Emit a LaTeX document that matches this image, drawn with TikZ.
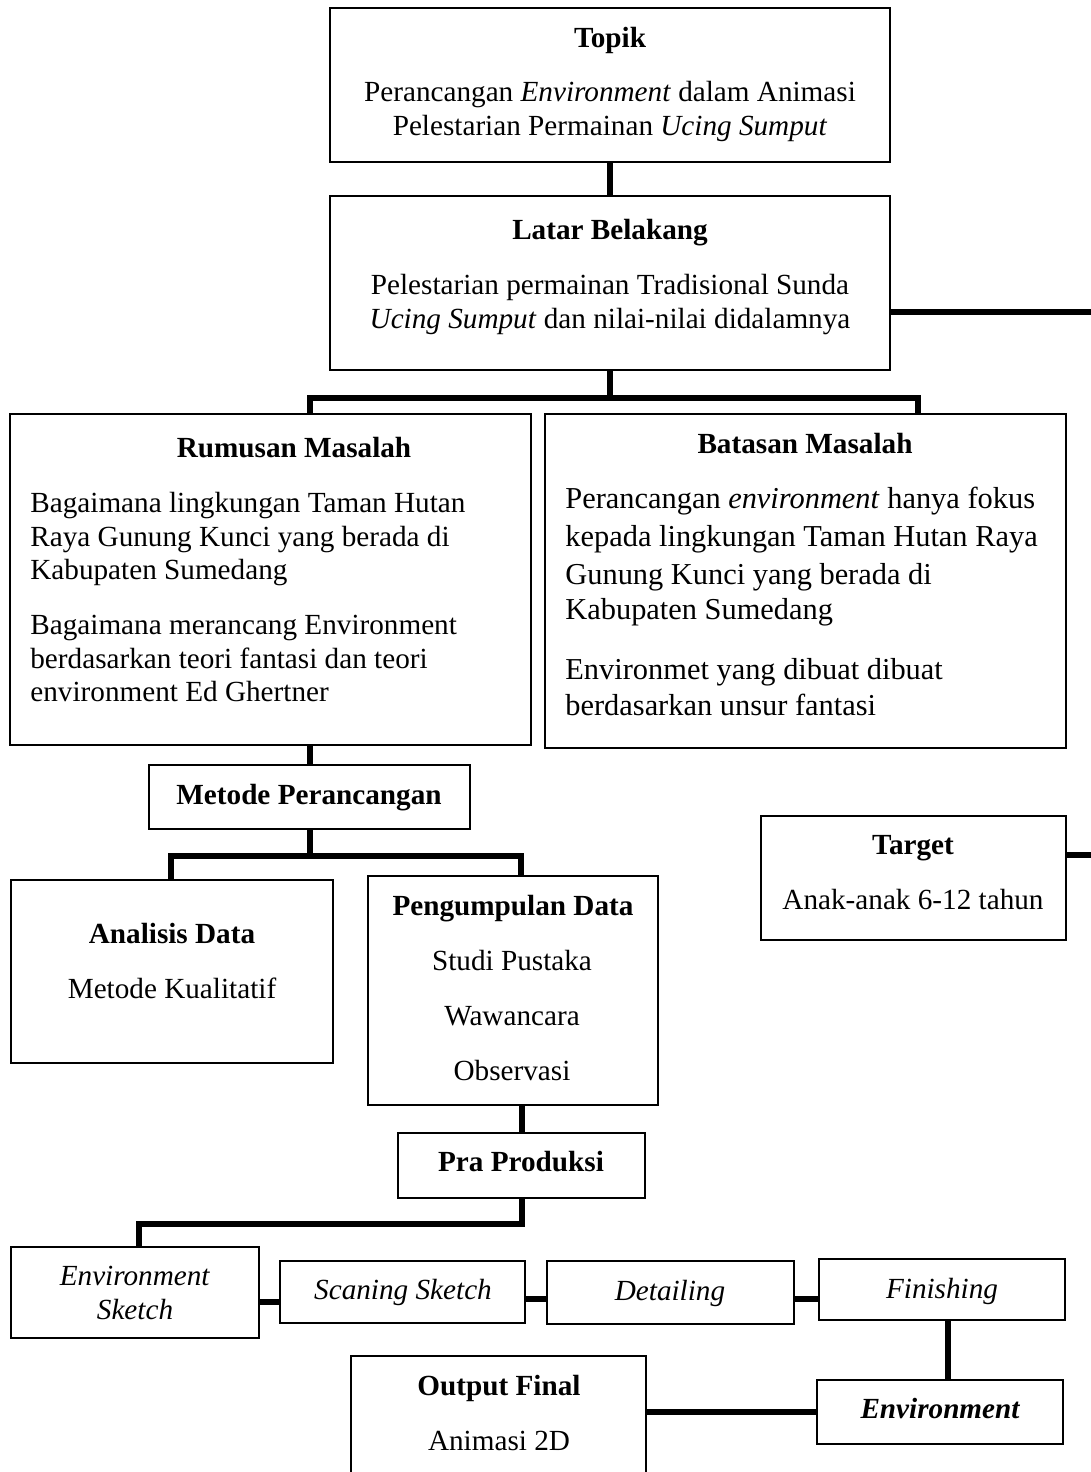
\documentclass[tikz,border=0pt]{standalone}
\usepackage{fontspec}
\setmainfont{Liberation Serif}
\usetikzlibrary{fit}
\tikzset{
  box/.style={draw, line width=1.2pt, inner sep=0pt, outer sep=0pt},
  conn/.style={line width=3pt, line join=miter},
  txt/.style={inner sep=0pt, yshift=-2.5pt, font=\fontsize{14.6pt}{17pt}\selectfont, text height=0.7em, text depth=0.25em},
  ttl/.style={txt, font=\fontsize{14.6pt}{17pt}\selectfont\bfseries},
  ltxt/.style={txt, anchor=west},
  btxt/.style={txt, anchor=west, font=\fontsize{15.2pt}{18pt}\selectfont}
}
\begin{document}
\begin{tikzpicture}[x=0.5pt,y=-0.5pt]
\path[use as bounding box] (0,0) rectangle (1091,1472);
\clip (0,0) rectangle (1091,1472);
\fill[white] (0,0) rectangle (1091,1472);

% boxes
\node[box, fit={(330,8) (890,162)}] (topik) {};
\node[box, fit={(330,196) (890,370)}] (latar) {};
\node[box, fit={(10,414) (531,745)}] (rumusan) {};
\node[box, fit={(545,414) (1066,748)}] (batasan) {};
\node[box, fit={(149,765) (470,829)}] (metode) {};
\node[box, fit={(761,816) (1066,940)}] (target) {};
\node[box, fit={(11,880) (333,1063)}] (analisis) {};
\node[box, fit={(368,876) (658,1105)}] (pengumpulan) {};
\node[box, fit={(398,1133) (645,1198)}] (pra) {};
\node[box, fit={(11,1247) (259,1338)}] (envs) {};
\node[box, fit={(280,1261) (525,1323)}] (scan) {};
\node[box, fit={(547,1261) (794,1324)}] (detail) {};
\node[box, fit={(819,1259) (1065,1320)}] (finish) {};
\node[box, fit={(817,1380) (1063,1444)}] (env) {};
\node[box, fit={(351,1356) (646,1520)}] (output) {};

% texts
\node[ttl] (tTopik) at (610,38) {Topik};
\node[txt] (tTopik1) at (610,92) {Perancangan \textit{Environment} dalam Animasi};
\node[txt] (tTopik2) at (610,126) {Pelestarian Permainan \textit{Ucing Sumput}};

\node[ttl] (tLatar) at (610,230) {Latar Belakang};
\node[txt] (tLatar1) at (610,285) {Pelestarian permainan Tradisional Sunda};
\node[txt] (tLatar2) at (610,319) {\textit{Ucing Sumput} dan nilai-nilai didalamnya};

\node[ttl] (tRum) at (294,448) {Rumusan Masalah};
\node[ltxt] (tRum1) at (30,503) {Bagaimana lingkungan Taman Hutan};
\node[ltxt] (tRum2) at (30,537) {Raya Gunung Kunci yang berada di};
\node[ltxt] (tRum3) at (30,570) {Kabupaten Sumedang};
\node[ltxt] (tRum4) at (30,625) {Bagaimana merancang Environment};
\node[ltxt] (tRum5) at (30,659) {berdasarkan teori fantasi dan teori};
\node[ltxt] (tRum6) at (30,692) {environment Ed Ghertner};

\node[ttl] (tBat) at (805,444) {Batasan Masalah};
\node[btxt] (tBat1) at (565,499) {Perancangan \textit{environment} hanya fokus};
\node[btxt] (tBat2) at (565,537) {kepada lingkungan Taman Hutan Raya};
\node[btxt] (tBat3) at (565,575) {Gunung Kunci yang berada di};
\node[btxt] (tBat4) at (565,610) {Kabupaten Sumedang};
\node[btxt] (tBat5) at (565,670) {Environmet yang dibuat dibuat};
\node[btxt] (tBat6) at (565,706) {berdasarkan unsur fantasi};

\node[ttl] (tMet) at (309,795) {Metode Perancangan};
\node[ttl] (tTar) at (913,845) {Target};
\node[txt] (tTar1) at (913,900) {Anak-anak 6-12 tahun};

\node[ttl] (tAna) at (172,934) {Analisis Data};
\node[txt] (tAna1) at (172,989) {Metode Kualitatif};

\node[ttl] (tPen) at (513,906) {Pengumpulan Data};
\node[txt] (tPen1) at (512,961) {Studi Pustaka};
\node[txt] (tPen2) at (512,1016) {Wawancara};
\node[txt] (tPen3) at (512,1071) {Observasi};

\node[ttl] (tPra) at (521,1162) {Pra Produksi};

\node[txt] (tEnvs1) at (135,1276) {\textit{Environment}};
\node[txt] (tEnvs2) at (135,1310) {\textit{Sketch}};
\node[txt] (tScan) at (403,1290) {\textit{Scaning Sketch}};
\node[txt] (tDet) at (670,1291) {\textit{Detailing}};
\node[txt] (tFin) at (942,1289) {\textit{Finishing}};
\node[txt, font=\fontsize{14.6pt}{17pt}\selectfont\bfseries\itshape] (tEnv) at (940,1409) {Environment};

\node[ttl] (tOut) at (499,1386) {Output Final};
\node[txt] (tOut1) at (499,1441) {Animasi 2D};

% junction coordinates
\coordinate (jA) at (612,398);
\coordinate (jB) at (310,398);
\coordinate (jC) at (918,398);
\coordinate (eR1) at (1091,312);
\coordinate (eR2) at (1091,855);
\coordinate (jD) at (171,856);
\coordinate (jE) at (521,856);
\coordinate (jF) at (139,1224);
\coordinate (r1) at (270,1302);
\coordinate (r2) at (536,1299);
\coordinate (r3) at (806,1299);
\coordinate (c948) at (948,1350);

% connectors
\draw[conn] (topik.south) -- (latar.north);
\draw[conn] (latar.south) -- (latar.south |- jA);
\draw[conn] (rumusan.north -| jB) -- (jB) -- (jC) -- (batasan.north -| jC);
\draw[conn] (latar.east |- eR1) -- (eR1);
\draw[conn] (rumusan.south -| metode.north) -- (metode.north);
\draw[conn] (metode.south) -- (metode.south |- jD);
\draw[conn] (analisis.north -| jD) -- (jD) -- (jE) -- (pengumpulan.north -| jE);
\draw[conn] (target.east |- eR2) -- (eR2);
\draw[conn] (pengumpulan.south -| pra.north) -- (pra.north);
\draw[conn] (pra.south) |- (jF) -- (envs.north -| jF);
\draw[conn] (envs.east |- r1) -- (scan.west |- r1);
\draw[conn] (scan.east |- r2) -- (detail.west |- r2);
\draw[conn] (detail.east |- r3) -- (finish.west |- r3);
\draw[conn] (finish.south -| c948) -- (env.north -| c948);
\draw[conn] (env.west) -- (env.west -| output.east);
\end{tikzpicture}
\end{document}
